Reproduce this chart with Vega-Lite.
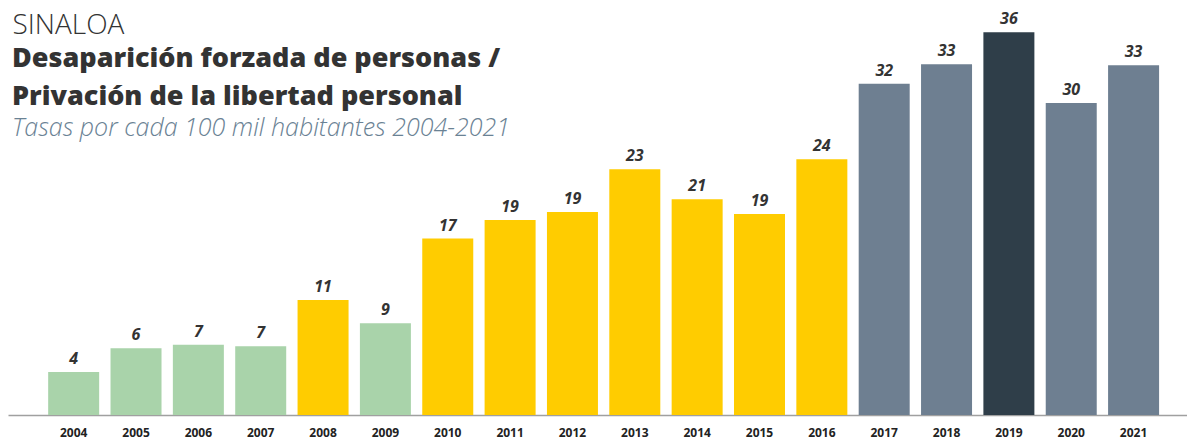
{
  "$schema": "https://vega.github.io/schema/vega-lite/v6.json",
  "width": 1187,
  "height": 439,
  "autosize": {"type": "fit", "contains": "padding"},
  "padding": {"left": 8, "right": 0, "top": 0, "bottom": 0},
  "background": "#ffffff",
  "config": {"view": {"stroke": null}, "font": "Open Sans"},
  "title": {
    "text": ["Desaparición forzada de personas /", "Privación de la libertad personal"],
    "subtitle": "Tasas por cada 100 mil habitantes 2004-2021",
    "anchor": "start",
    "frame": "group",
    "orient": "top",
    "offset": -142,
    "dx": 4,
    "font": "Open Sans",
    "fontSize": 27,
    "fontWeight": 800,
    "color": "#333333",
    "lineHeight": 38,
    "subtitleFont": "Open Sans",
    "subtitleFontSize": 25,
    "subtitleFontStyle": "italic",
    "subtitleFontWeight": 300,
    "subtitleColor": "#6a8294",
    "subtitlePadding": 5
  },
  "data": {
    "values": [
      {"year": "2004", "value": 4.1, "group": "verde"},
      {"year": "2005", "value": 6.35, "group": "verde"},
      {"year": "2006", "value": 6.7, "group": "verde"},
      {"year": "2007", "value": 6.55, "group": "verde"},
      {"year": "2008", "value": 10.95, "group": "amarillo"},
      {"year": "2009", "value": 8.73, "group": "verde"},
      {"year": "2010", "value": 16.8, "group": "amarillo"},
      {"year": "2011", "value": 18.57, "group": "amarillo"},
      {"year": "2012", "value": 19.33, "group": "amarillo"},
      {"year": "2013", "value": 23.4, "group": "amarillo"},
      {"year": "2014", "value": 20.55, "group": "amarillo"},
      {"year": "2015", "value": 19.14, "group": "amarillo"},
      {"year": "2016", "value": 24.35, "group": "amarillo"},
      {"year": "2017", "value": 31.55, "group": "gris"},
      {"year": "2018", "value": 33.4, "group": "gris"},
      {"year": "2019", "value": 36.45, "group": "oscuro"},
      {"year": "2020", "value": 29.7, "group": "gris"},
      {"year": "2021", "value": 33.3, "group": "gris"}
    ]
  },
  "encoding": {
    "x": {
      "field": "year",
      "type": "ordinal",
      "scale": {"paddingInner": 0.182, "paddingOuter": 0.546, "align": 0.59},
      "axis": {
        "title": null,
        "labelAngle": 0,
        "labelFont": "Open Sans",
        "labelFontWeight": "bold",
        "labelFontSize": 12,
        "labelColor": "#222222",
        "labelPadding": 21,
        "labelBaseline": "alphabetic",
        "ticks": false,
        "domainColor": "#a0a0a0",
        "domainWidth": 1.5,
        "minExtent": 24,
        "maxExtent": 24
      }
    },
    "y": {
      "field": "value",
      "type": "quantitative",
      "scale": {"domain": [0, 39.52], "nice": false},
      "axis": {
        "title": "SINALOA",
        "titleX": 4,
        "titleY": 33,
        "titleAngle": 0,
        "titleAlign": "left",
        "titleBaseline": "alphabetic",
        "titleFont": "Open Sans",
        "titleFontSize": 28,
        "titleFontWeight": 300,
        "titleColor": "#333333",
        "labels": false,
        "ticks": false,
        "domain": false,
        "grid": false,
        "minExtent": 0,
        "maxExtent": 0
      }
    }
  },
  "layer": [
    {
      "mark": {"type": "bar"},
      "encoding": {
        "color": {
          "field": "group",
          "type": "nominal",
          "scale": {"domain": ["verde", "amarillo", "gris", "oscuro"], "range": ["#a9d3aa", "#ffcc00", "#6e7f91", "#2f3e49"]},
          "legend": null
        }
      }
    },
    {
      "mark": {"type": "text", "baseline": "bottom", "dy": -5, "font": "Open Sans", "fontSize": 16, "fontStyle": "italic", "fontWeight": "bold", "color": "#333333"},
      "encoding": {
        "text": {"field": "value", "type": "quantitative", "format": ".0f"}
      }
    }
  ]
}
